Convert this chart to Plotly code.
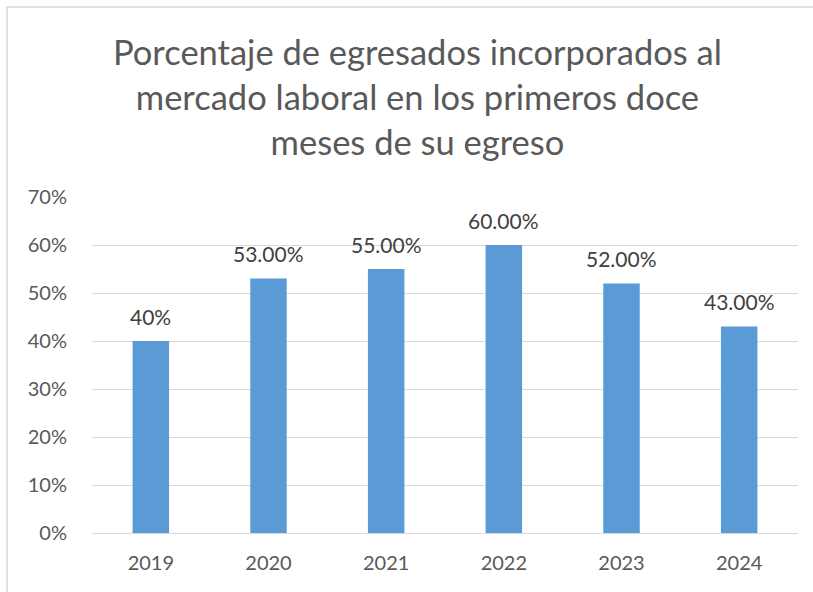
import plotly.graph_objects as go

years = ["2019", "2020", "2021", "2022", "2023", "2024"]
values = [0.40, 0.53, 0.55, 0.60, 0.52, 0.43]
labels = ["40%", "53.00%", "55.00%", "60.00%", "52.00%", "43.00%"]
y_ticks = [0, 0.1, 0.2, 0.3, 0.4, 0.5, 0.6, 0.7]
y_tick_text = ["0%", "10%", "20%", "30%", "40%", "50%", "60%", "70%"]
title_text = "Porcentaje de egresados incorporados al<br>mercado laboral en los primeros doce<br>meses de su egreso"

W, H = 813, 592
L, R, T, B = 92, 15, 197, 59
pw, ph = W - L - R, H - T - B

def px_x(x):
    return (x - L) / pw

def px_y(y):
    return (H - B - y) / ph

FONT = "Lato"

fig = go.Figure()
fig.add_trace(go.Bar(
    x=years, y=values,
    marker=dict(color="#5B9BD5", line=dict(width=0)),
    width=0.31, hoverinfo="x+y",
))

# category axis: annotation x given as category index
annotations = [
    dict(x=i, y=v, xref="x", yref="y", text=lab, showarrow=False,
         yanchor="middle", xanchor="center", yshift=25,
         font=dict(size=21, color="#404040", family=FONT))
    for i, (v, lab) in enumerate(zip(values, labels))
]
annotations.append(dict(
    x=px_x(417.5), y=px_y(97), xref="paper", yref="paper", text=title_text,
    showarrow=False, xanchor="center", yanchor="middle", align="center",
    font=dict(size=34.5, color="#595959", family=FONT),
))

fig.update_layout(
    width=W, height=H,
    margin=dict(l=L, r=R, t=T, b=B, autoexpand=False),
    paper_bgcolor="white", plot_bgcolor="white",
    showlegend=False,
    font=dict(family=FONT, color="#595959"),
    xaxis=dict(
        type="category", categoryorder="array", categoryarray=years,
        range=[-0.5, len(years) - 0.5],
        showgrid=False, showline=True, linecolor="#D9D9D9", linewidth=1,
        ticks="", tickfont=dict(size=20, color="#595959"), ticklabelstandoff=12,
        automargin=False,
    ),
    yaxis=dict(
        range=[0, 0.7], tickvals=y_ticks, ticktext=y_tick_text,
        showgrid=True, gridcolor="#D9D9D9", gridwidth=1,
        zeroline=True, zerolinecolor="#D9D9D9", zerolinewidth=1,
        showline=False, ticks="", tickfont=dict(size=20, color="#595959"),
        ticklabelstandoff=24, automargin=False,
    ),
    annotations=annotations,
    shapes=[dict(
        type="rect", xref="paper", yref="paper",
        x0=px_x(7), x1=px_x(830), y0=px_y(610), y1=px_y(7),
        line=dict(color="#D9D9D9", width=1.5), fillcolor="rgba(0,0,0,0)", layer="below",
    )],
)

fig.write_html("out.html", config={"displayModeBar": False},
               post_script="document.body.style.margin='0';document.body.style.padding='0';")
